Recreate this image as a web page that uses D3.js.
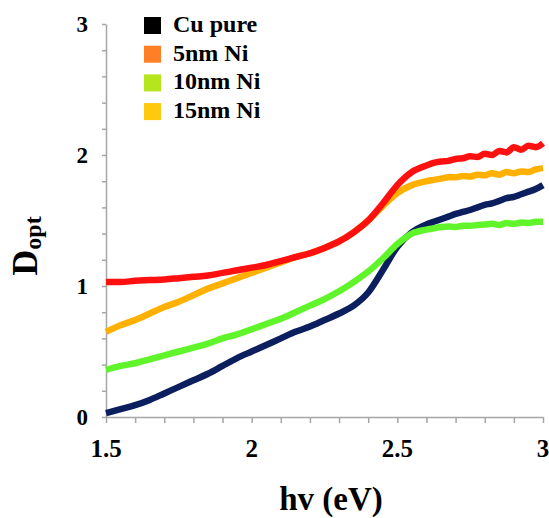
<!DOCTYPE html>
<html>
<head>
<meta charset="utf-8">
<style>
  body { margin: 0; background: #fff; }
  text { font-family: "Liberation Serif", "Times New Roman", serif; font-weight: bold; }
</style>
</head>
<body>
<script src="https://d3js.org/d3.v7.min.js"></script>
<svg id="chart" width="549" height="518"></svg>
<script>
// photon energy (eV)
const energy = [1.5, 1.55, 1.6, 1.65, 1.7, 1.75, 1.8, 1.85, 1.9, 1.95,
                2.0, 2.05, 2.1, 2.15, 2.2, 2.25, 2.3, 2.35, 2.4, 2.45,
                2.5, 2.55, 2.6, 2.625, 2.65, 2.675, 2.7, 2.725, 2.75, 2.775,
                2.8, 2.825, 2.85, 2.875, 2.9, 2.925, 2.95, 2.975, 3.0];

const cuPure = [0.03, 0.06, 0.09, 0.13, 0.18, 0.23, 0.28, 0.33, 0.39, 0.45,
                0.50, 0.55, 0.60, 0.65, 0.69, 0.74, 0.79, 0.85, 0.95, 1.12,
                1.30, 1.41, 1.47, 1.49, 1.51, 1.53, 1.55, 1.565, 1.58, 1.60,
                1.62, 1.63, 1.65, 1.67, 1.68, 1.70, 1.72, 1.74, 1.77];
const ni5 = [1.03, 1.03, 1.04, 1.045, 1.05, 1.06, 1.07, 1.08, 1.10, 1.12,
             1.14, 1.16, 1.19, 1.22, 1.25, 1.29, 1.34, 1.41, 1.50, 1.63,
             1.77, 1.87, 1.92, 1.94, 1.95, 1.955, 1.97, 1.975, 1.99, 1.985,
             2.01, 2.00, 2.03, 2.02, 2.06, 2.04, 2.07, 2.06, 2.09];
const ni10 = [0.36, 0.39, 0.41, 0.44, 0.47, 0.50, 0.53, 0.56, 0.60, 0.63,
              0.67, 0.71, 0.75, 0.80, 0.85, 0.90, 0.96, 1.03, 1.11, 1.21,
              1.32, 1.40, 1.43, 1.44, 1.45, 1.455, 1.45, 1.46, 1.46, 1.465,
              1.47, 1.475, 1.465, 1.48, 1.475, 1.485, 1.48, 1.49, 1.49];
const ni15 = [0.65, 0.70, 0.74, 0.79, 0.84, 0.88, 0.93, 0.98, 1.02, 1.06,
              1.10, 1.14, 1.18, 1.22, 1.25, 1.29, 1.34, 1.41, 1.50, 1.61,
              1.71, 1.77, 1.80, 1.81, 1.82, 1.83, 1.83, 1.84, 1.835, 1.85,
              1.845, 1.86, 1.85, 1.87, 1.86, 1.875, 1.87, 1.89, 1.90];

const seriesNames = ["Cu pure", "5nm Ni", "10nm Ni", "15nm Ni"];
const lineColors = ["#0b1f5e", "#ff1010", "#5ff52a", "#ffb000"];
const legendColors = ["#000000", "#ff7f27", "#b5e61d", "#ffc90e"];
const xTickLabels = [1.5, 2, 2.5, 3];
const yTickLabels = [0, 1, 2, 3];

const svg = d3.select("#chart");
const x = d3.scaleLinear().domain([1.5, 3]).range([106, 543]);
const y = d3.scaleLinear().domain([0, 3]).range([417, 24]);

// gray axes with minor ticks
const axisGray = "#a6a6a6";
svg.append("g")
    .attr("transform", "translate(106,0)")
    .call(d3.axisLeft(y).tickValues(d3.range(0, 3.01, 0.2)).tickSize(4).tickSizeOuter(0).tickFormat(""))
    .call(g => g.selectAll("line,path").attr("stroke", axisGray).attr("stroke-width", 1.5));
svg.append("g")
    .attr("transform", "translate(0,417)")
    .call(d3.axisBottom(x).tickValues(d3.range(1.5, 3.01, 0.1)).tickSize(6).tickSizeOuter(0).tickFormat(""))
    .call(g => g.selectAll("line,path").attr("stroke", axisGray).attr("stroke-width", 1.5));

// tick labels
svg.append("g").selectAll("text")
    .data(yTickLabels)
    .join("text")
    .attr("x", 88)
    .attr("y", d => y(d) + 8)
    .attr("text-anchor", "end")
    .attr("font-size", 23)
    .text(d => d);
svg.append("g").selectAll("text")
    .data(xTickLabels)
    .join("text")
    .attr("x", d => x(d))
    .attr("y", 457)
    .attr("text-anchor", "middle")
    .attr("font-size", 25)
    .text(d => d);

// axis titles
svg.append("text")
    .attr("x", 331)
    .attr("y", 510)
    .attr("text-anchor", "middle")
    .attr("font-size", 33)
    .text("hv (eV)");
const yt = svg.append("text")
    .attr("transform", "translate(37,246) rotate(-90)")
    .attr("text-anchor", "middle");
yt.append("tspan").attr("font-size", 36).text("D");
yt.append("tspan").attr("font-size", 24).attr("dy", 4).text("opt");

// curves
const all = [cuPure, ni5, ni10, ni15];
const line = d3.line()
    .x((d, i) => x(energy[i]))
    .y(d => y(d))
    .curve(d3.curveMonotoneX);
svg.append("g").selectAll("path")
    .data([cuPure, ni10, ni15, ni5])
    .join("path")
    .attr("d", line)
    .attr("fill", "none")
    .attr("stroke", d => lineColors[all.indexOf(d)])
    .attr("stroke-width", 6.5)
    .attr("stroke-linejoin", "round");

// legend
const leg = svg.append("g").selectAll("g")
    .data(seriesNames)
    .join("g")
    .attr("transform", (d, i) => `translate(144,${32 + i * 28.7})`);
leg.append("rect")
    .attr("x", 0).attr("y", -15)
    .attr("width", 17).attr("height", 17)
    .attr("fill", (d, i) => legendColors[i]);
leg.append("text")
    .attr("x", 29)
    .attr("y", 0)
    .attr("font-size", 24)
    .text(d => d);
</script>
</body>
</html>
